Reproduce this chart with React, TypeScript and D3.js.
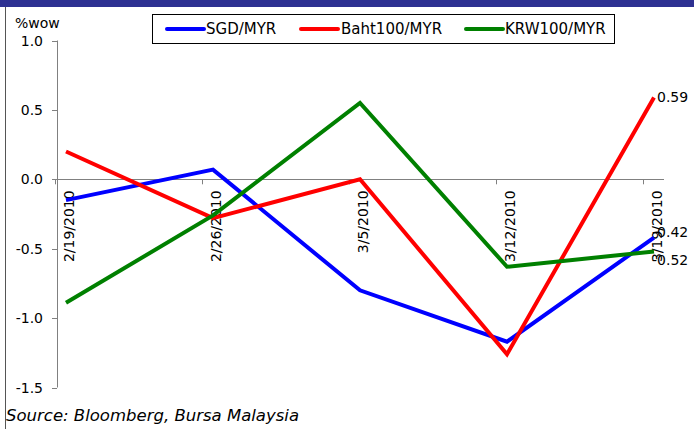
import React from 'react';
import * as d3 from 'd3';

const dates = ['2/19/2010', '2/26/2010', '3/5/2010', '3/12/2010', '3/19/2010'];
const sgd = [-0.15, 0.07, -0.80, -1.17, -0.42];
const baht = [0.20, -0.28, 0.00, -1.26, 0.59];
const krw = [-0.89, -0.26, 0.55, -0.63, -0.52];
const yTicks = [1.0, 0.5, 0.0, -0.5, -1.0, -1.5];

// end-label vertical nudges (px), as in the reference where labels were moved apart
const seriesList = [
  { name: 'SGD/MYR', values: sgd, color: '#0000ff', nudge: -6 },
  { name: 'Baht100/MYR', values: baht, color: '#ff0000', nudge: 0 },
  { name: 'KRW100/MYR', values: krw, color: '#008000', nudge: 9 },
];

const width = 694;
const height = 429;
const font = '"DejaVu Sans", Verdana, sans-serif';

export default function App() {
  const x = d3.scalePoint<string>().domain(dates).range([66, 654]);
  const y = d3.scaleLinear().domain([-1.5, 1.0]).range([387.5, 40.5]);
  const axisX = 57;
  const zeroY = y(0);
  const fmt1 = d3.format('.1f');
  const fmt2 = d3.format('.2f');

  const line = d3.line<number>()
    .x((d, i) => x(dates[i]) as number)
    .y(d => y(d));

  //---- legend positions ----//
  const legendItems = [
    { lx: 167, tx: 206 },
    { lx: 301, tx: 341 },
    { lx: 466, tx: 505 },
  ];

  return (
    <svg width={width} height={height}
      style={{ position: 'absolute', left: 0, top: 0, background: '#fff' }}
      fontFamily={font}>
      {/* top bar */}
      <rect x={0} y={0} width={width} height={7} fill="#2e3192" />
      <line x1={5.5} x2={5.5} y1={7} y2={height} stroke="#555" strokeWidth={1} />

      {/* y axis */}
      <line x1={axisX + 0.5} x2={axisX + 0.5} y1={y(1.0)} y2={y(-1.5)} stroke="#808080" />
      {yTicks.map(t => (
        <g key={t}>
          <line x1={axisX - 5} x2={axisX} y1={Math.round(y(t)) + 0.5} y2={Math.round(y(t)) + 0.5} stroke="#808080" />
          <text x={43} y={y(t)} textAnchor="end" dominantBaseline="central" fontSize={14} fill="#000">
            {fmt1(t).replace('−', '-')}
          </text>
        </g>
      ))}
      <text x={15} y={28} fontSize={14} fill="#000">%wow</text>

      {/* x axis at zero */}
      <line x1={axisX} x2={664} y1={Math.round(zeroY) + 0.5} y2={Math.round(zeroY) + 0.5} stroke="#808080" />
      {dates.map(d => (
        <g key={d}>
          <line x1={(x(d) as number) - 10.5} x2={(x(d) as number) - 10.5}
            y1={zeroY} y2={zeroY + 5} stroke="#808080" />
          <text transform={`translate(${(x(d) as number) + 3},${zeroY + 11}) rotate(-90)`}
            textAnchor="end" dominantBaseline="central" fontSize={14} fill="#000">{d}</text>
        </g>
      ))}

      {/* series */}
      {seriesList.map(s => (
        <path key={s.name} d={line(s.values) ?? ''} fill="none" stroke={s.color}
          strokeWidth={4} strokeLinejoin="miter" />
      ))}

      {/* end labels */}
      {seriesList.map(s => {
        const v = s.values[s.values.length - 1];
        const neg = v < 0;
        return (
          <text key={s.name + 'lbl'} x={(x(dates[dates.length - 1]) as number) + (neg ? -2 : 3)}
            y={y(v) + s.nudge} dominantBaseline="central" fontSize={14} fill="#000">
            {fmt2(v).replace('−', '-')}
          </text>
        );
      })}

      {/* legend */}
      <rect x={152.5} y={14.5} width={462} height={29} fill="#fff" stroke="#000" strokeWidth={1} />
      {seriesList.map((s, i) => (
        <g key={s.name + 'leg'}>
          <line x1={legendItems[i].lx} x2={legendItems[i].lx + 37} y1={29} y2={29}
            stroke={s.color} strokeWidth={4} strokeLinecap="round" />
          <text x={legendItems[i].tx} y={29} dominantBaseline="central" fontSize={15} fill="#000">{s.name}</text>
        </g>
      ))}

      {/* source */}
      <text x={6} y={421} fontSize={16.5} fontStyle="italic" fill="#000">Source: Bloomberg, Bursa Malaysia</text>
    </svg>
  );
}
